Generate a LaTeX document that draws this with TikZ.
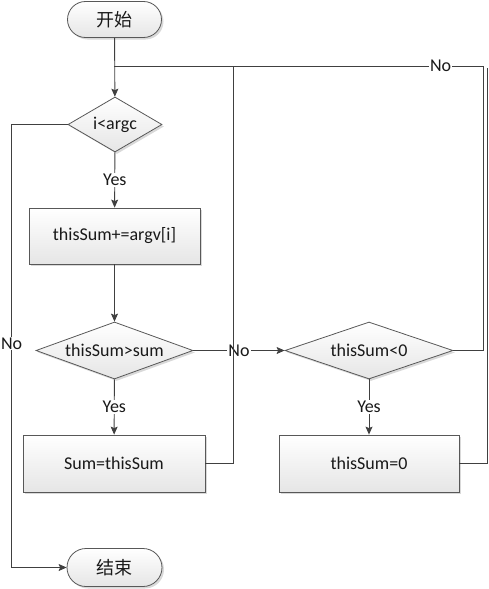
\documentclass[tikz,border=0pt]{standalone}
\usepackage{fontspec}
\setmainfont{Carlito}
\newfontfamily\cjk{Noto Sans CJK SC}
\usetikzlibrary{shapes.geometric,shapes.misc,shadows,arrows.meta}
\definecolor{linegray}{HTML}{404040}
\definecolor{boxline}{HTML}{585858}
\begin{document}
\begin{tikzpicture}[x=1pt,y=-1pt,
 font=\fontsize{18}{21}\selectfont,
 flowbox/.style={draw=boxline,line width=0.8pt,top color=white,bottom color=gray!20,
   drop shadow={shadow xshift=2pt,shadow yshift=-2pt,fill=gray,opacity=0.3},inner sep=0pt,
   text=black!90},
 procbox/.style={flowbox,rectangle,minimum height=56pt},
 testbox/.style={flowbox,diamond,aspect=2.8,minimum height=57pt},
 termbox/.style={flowbox,rounded rectangle,minimum width=94pt,minimum height=36pt},
 link/.style={draw=linegray,line width=0.9pt},
 arrowlink/.style={link,-{Stealth[length=8pt,width=7pt,inset=1.5pt]}},
 answer/.style={fill=white,inner sep=1pt,text=black!90}]
 \useasboundingbox (0,0) rectangle (489,589);
 % nodes
 \node[termbox] (start) at (114.5,19.5) {\cjk 开始};
 \node[testbox,minimum width=94pt,minimum height=55pt] (argc) at (115,124.5) {i<argc};
 \node[procbox,minimum width=171pt] (add) at (114.5,236) {thisSum+=argv[i]};
 \node[testbox,minimum width=157pt] (gt) at (114.5,350.5) {thisSum>sum};
 \node[testbox,minimum width=168pt] (lt) at (369,350.5) {thisSum<0};
 \node[procbox,minimum width=182pt,minimum height=57pt] (setsum) at (114,463.5) {Sum=thisSum};
 \node[procbox,minimum width=180pt,minimum height=57pt] (zero) at (369,463.5) {thisSum=0};
 \node[termbox,minimum width=95pt,minimum height=38pt] (stop) at (114.5,567.5) {\cjk 结束};
 \coordinate (merge) at (114,66);
 \coordinate (zerotop) at (487,68);
 % connectors
 \draw[arrowlink] (start) -- (argc);
 \draw[arrowlink] (argc) -- node[answer]{Yes} (add);
 \draw[arrowlink] (add) -- (gt);
 \draw[arrowlink] (gt) -- node[answer]{Yes} (setsum);
 \draw[arrowlink] (lt) -- node[answer]{Yes} (zero);
 \draw[arrowlink] (gt) -- node[answer]{No} (lt);
 \draw[link] (setsum.east) -- ++(28,0) |- (merge);
 \draw[link] (lt.east) -- ++(30,0) |- node[answer,pos=0.558]{No} (merge);
 \draw[link] (zero.east) -| (zerotop);
 \draw[arrowlink] (argc.west) -- ++(-56,0) |- node[answer,pos=0.247]{No} (stop.west);
\end{tikzpicture}
\end{document}
